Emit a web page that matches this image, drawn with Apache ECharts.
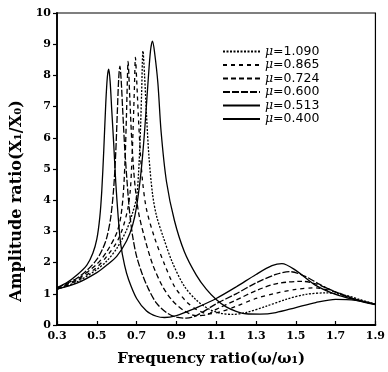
<!DOCTYPE html>
<html>
<head>
<meta charset="utf-8">
<script src="https://cdn.jsdelivr.net/npm/echarts@6.0.0/dist/echarts.min.js"></script>
<style>
  html, body { margin: 0; padding: 0; background: #fff; }
  #chart { width: 388px; height: 372px; }
</style>
</head>
<body>
<div id="chart"></div>
<script>
// tick labels
const xTicks = [0.3, 0.5, 0.7, 0.9, 1.1, 1.3, 1.5, 1.7, 1.9]
const muNames = ['μ=1.090', 'μ=0.865', 'μ=0.724', 'μ=0.600', 'μ=0.513', 'μ=0.400']

// [frequency ratio, amplitude ratio]
const mu1090 = [
  [0.30, 1.15], [0.40, 1.38], [0.50, 1.78], [0.55, 2.05], [0.60, 2.45], [0.65, 3.05],
  [0.68, 3.6], [0.70, 4.1], [0.71, 4.9], [0.718, 6.0], [0.725, 7.4], [0.732, 8.78],
  [0.74, 8.0], [0.75, 6.7], [0.762, 5.4], [0.78, 4.2], [0.80, 3.5], [0.835, 2.8],
  [0.88, 2.0], [0.94, 1.24], [1.00, 0.8], [1.06, 0.52], [1.12, 0.38], [1.18, 0.34],
  [1.25, 0.4], [1.35, 0.6], [1.45, 0.82], [1.55, 0.98], [1.65, 1.03], [1.75, 0.95],
  [1.82, 0.82], [1.90, 0.67]
]
const mu0865 = [
  [0.30, 1.16], [0.40, 1.42], [0.50, 1.85], [0.55, 2.2], [0.60, 2.65], [0.63, 3.1],
  [0.655, 3.7], [0.668, 4.3], [0.676, 5.2], [0.683, 6.4], [0.689, 7.6], [0.694, 8.58],
  [0.70, 7.9], [0.708, 6.8], [0.718, 5.6], [0.73, 4.6], [0.75, 3.7], [0.79, 2.8],
  [0.84, 1.95], [0.89, 1.24], [0.95, 0.75], [1.00, 0.5], [1.06, 0.36], [1.12, 0.42],
  [1.20, 0.6], [1.30, 0.85], [1.40, 1.02], [1.50, 1.14], [1.59, 1.19], [1.70, 1.06],
  [1.80, 0.83], [1.90, 0.66]
]
const mu0724 = [
  [0.30, 1.17], [0.40, 1.46], [0.50, 1.95], [0.55, 2.35], [0.60, 2.95], [0.62, 3.45],
  [0.633, 4.2], [0.642, 5.3], [0.649, 6.7], [0.653, 7.7], [0.657, 8.45], [0.665, 7.4],
  [0.675, 6.0], [0.69, 4.6], [0.71, 3.6], [0.74, 2.8], [0.78, 1.95], [0.83, 1.24],
  [0.88, 0.78], [0.94, 0.45], [1.00, 0.3], [1.05, 0.32], [1.10, 0.5], [1.20, 0.8],
  [1.30, 1.1], [1.40, 1.32], [1.53, 1.4], [1.60, 1.32], [1.70, 1.06], [1.80, 0.82],
  [1.90, 0.66]
]
const mu0600 = [
  [0.30, 1.18], [0.40, 1.5], [0.45, 1.75], [0.50, 2.1], [0.53, 2.45], [0.55, 2.8],
  [0.57, 3.45], [0.585, 4.4], [0.595, 5.5], [0.603, 6.8], [0.61, 7.9], [0.616, 8.3],
  [0.622, 7.9], [0.63, 6.9], [0.64, 5.7], [0.652, 4.6], [0.665, 3.6], [0.68, 2.85],
  [0.70, 2.2], [0.73, 1.6], [0.76, 1.15], [0.80, 0.7], [0.85, 0.4], [0.90, 0.25],
  [0.95, 0.22], [1.00, 0.3], [1.10, 0.68], [1.20, 1.0], [1.30, 1.35], [1.40, 1.62],
  [1.47, 1.71], [1.55, 1.55], [1.62, 1.3], [1.70, 1.05], [1.80, 0.82], [1.90, 0.66]
]
const mu0513 = [
  [0.30, 1.2], [0.35, 1.36], [0.40, 1.6], [0.45, 1.92], [0.48, 2.3], [0.50, 2.75],
  [0.515, 3.45], [0.525, 4.3], [0.535, 5.6], [0.545, 7.1], [0.553, 7.95], [0.56, 8.2],
  [0.567, 7.8], [0.575, 6.9], [0.585, 5.8], [0.595, 4.6], [0.607, 3.5], [0.62, 2.6],
  [0.64, 1.9], [0.66, 1.45], [0.70, 0.85], [0.75, 0.45], [0.80, 0.28], [0.84, 0.24],
  [0.90, 0.3], [0.95, 0.42], [1.00, 0.55], [1.10, 0.85], [1.20, 1.22], [1.30, 1.62],
  [1.38, 1.9], [1.43, 1.97], [1.50, 1.75], [1.60, 1.27], [1.70, 0.98], [1.80, 0.8],
  [1.90, 0.65]
]
const mu0400 = [
  [0.30, 1.15], [0.40, 1.34], [0.50, 1.68], [0.55, 1.92], [0.60, 2.2], [0.65, 2.7],
  [0.68, 3.2], [0.70, 3.8], [0.723, 4.95], [0.74, 6.2], [0.757, 7.75], [0.77, 8.8],
  [0.78, 9.1], [0.79, 8.75], [0.807, 7.75], [0.823, 6.2], [0.85, 4.6], [0.89, 3.35],
  [0.94, 2.35], [1.00, 1.6], [1.05, 1.15], [1.10, 0.82], [1.15, 0.58], [1.20, 0.44],
  [1.25, 0.36], [1.32, 0.35], [1.40, 0.4], [1.50, 0.56], [1.60, 0.72], [1.70, 0.82],
  [1.80, 0.79], [1.90, 0.67]
]

const curves = [mu1090, mu0865, mu0724, mu0600, mu0513, mu0400]
const dashes = [[2, 1.5], [4, 4], [5, 3], [7, 2], 'solid', 'solid']

const serif = 'DejaVu Serif'

function makeLine(i) {
  return {
    name: muNames[i],
    type: 'line',
    data: curves[i],
    symbol: 'none',
    smooth: 0.3,
    lineStyle: {
      color: '#000',
      width: 1.3,
      type: dashes[i]
    },
    itemStyle: { color: '#000' }
  }
}

const chart = echarts.init(document.getElementById('chart'), null, { renderer: 'canvas' })

chart.setOption({
  backgroundColor: '#fff',
  animation: false,
  grid: {
    left: 57,
    right: 11,
    top: 13,
    bottom: 39,
    show: true,
    borderColor: '#000',
    borderWidth: 1.2
  },
  legend: {
    data: muNames,
    orient: 'vertical',
    left: 222,
    top: 45,
    itemWidth: 37,
    itemHeight: 8,
    itemGap: 0.5,
    padding: 0,
    itemStyle: { opacity: 0 },
    formatter: function(name) {
      return '{m|μ}' + name.slice(1)
    },
    textStyle: {
      fontFamily: 'DejaVu Sans',
      fontSize: 12.5,
      lineHeight: 11,
      color: '#000',
      rich: {
        m: { fontFamily: 'DejaVu Serif', fontStyle: 'italic', fontSize: 12.5, lineHeight: 11, color: '#000' }
      }
    }
  },
  xAxis: {
    type: 'value',
    min: 0.3,
    max: 1.9,
    name: 'Frequency ratio(ω/ω₁)',
    nameLocation: 'middle',
    nameGap: 27,
    nameTextStyle: {
      fontFamily: serif,
      fontWeight: 'bold',
      fontSize: 15,
      color: '#000',
      padding: [0, 10, 0, 0]
    },
    axisLine: { lineStyle: { color: '#000', width: 1.8 } },
    axisTick: { inside: true, length: 4, customValues: xTicks, lineStyle: { color: '#000', width: 1.2 } },
    axisLabel: {
      customValues: xTicks,
      margin: 6,
      fontFamily: serif,
      fontWeight: 'bold',
      fontSize: 11,
      color: '#000',
      formatter: v => v.toFixed(1)
    },
    splitLine: { show: false }
  },
  yAxis: {
    type: 'value',
    min: 0,
    max: 10,
    interval: 1,
    name: 'Amplitude ratio(X₁/X₀)',
    nameLocation: 'middle',
    nameGap: 29,
    nameTextStyle: {
      fontFamily: serif,
      fontWeight: 'bold',
      fontSize: 16,
      color: '#000',
      padding: [0, 64, 0, 0]
    },
    axisLine: { show: true, lineStyle: { color: '#000', width: 1.8 } },
    axisTick: { show: true, length: 4, lineStyle: { color: '#000', width: 1.2 } },
    axisLabel: {
      margin: 6,
      fontFamily: serif,
      fontWeight: 'bold',
      fontSize: 11,
      color: '#000'
    },
    splitLine: { show: false }
  },
  series: muNames.map((n, i) => makeLine(i))
})
</script>
</body>
</html>
